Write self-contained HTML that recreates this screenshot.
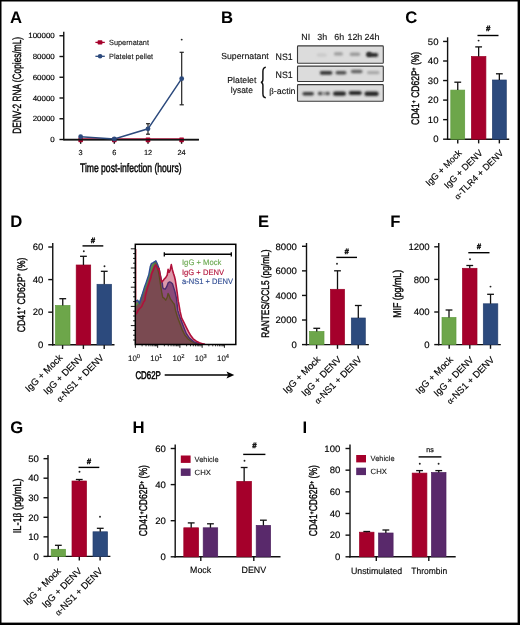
<!DOCTYPE html>
<html><head><meta charset="utf-8"><style>
html,body{margin:0;padding:0;background:#fff;}
svg{display:block;font-family:"Liberation Sans", sans-serif;will-change:transform;text-rendering:geometricPrecision;}
</style></head><body>
<svg width="520" height="625" viewBox="0 0 520 625" font-family='"Liberation Sans", sans-serif'>
<rect x="0" y="0" width="520" height="625" fill="#fff"/>
<text x="9.90" y="22.50" font-size="16.7" text-anchor="start" font-weight="bold" fill="#000"  style="">A</text>
<line x1="63.75" y1="31.75" x2="63.75" y2="140.20" stroke="#111" stroke-width="1.4" />
<line x1="59.45" y1="139.50" x2="63.75" y2="139.50" stroke="#111" stroke-width="1.4" />
<text x="54.80" y="142.12" font-size="7.5" text-anchor="end" font-weight="normal" fill="#000" textLength="4.42" lengthAdjust="spacingAndGlyphs"  stroke="#000" stroke-width="0.15" style="">0</text>
<line x1="59.45" y1="118.75" x2="63.75" y2="118.75" stroke="#111" stroke-width="1.4" />
<text x="54.80" y="121.38" font-size="7.5" text-anchor="end" font-weight="normal" fill="#000" textLength="22.11" lengthAdjust="spacingAndGlyphs"  stroke="#000" stroke-width="0.15" style="">20000</text>
<line x1="59.45" y1="98.00" x2="63.75" y2="98.00" stroke="#111" stroke-width="1.4" />
<text x="54.80" y="100.62" font-size="7.5" text-anchor="end" font-weight="normal" fill="#000" textLength="22.11" lengthAdjust="spacingAndGlyphs"  stroke="#000" stroke-width="0.15" style="">40000</text>
<line x1="59.45" y1="77.25" x2="63.75" y2="77.25" stroke="#111" stroke-width="1.4" />
<text x="54.80" y="79.88" font-size="7.5" text-anchor="end" font-weight="normal" fill="#000" textLength="22.11" lengthAdjust="spacingAndGlyphs"  stroke="#000" stroke-width="0.15" style="">60000</text>
<line x1="59.45" y1="56.50" x2="63.75" y2="56.50" stroke="#111" stroke-width="1.4" />
<text x="54.80" y="59.12" font-size="7.5" text-anchor="end" font-weight="normal" fill="#000" textLength="22.11" lengthAdjust="spacingAndGlyphs"  stroke="#000" stroke-width="0.15" style="">80000</text>
<line x1="59.45" y1="35.75" x2="63.75" y2="35.75" stroke="#111" stroke-width="1.4" />
<text x="54.80" y="38.38" font-size="7.5" text-anchor="end" font-weight="normal" fill="#000" textLength="26.53" lengthAdjust="spacingAndGlyphs"  stroke="#000" stroke-width="0.15" style="">100000</text>
<line x1="63.05" y1="139.50" x2="198.90" y2="139.50" stroke="#111" stroke-width="1.4" />
<line x1="80.65" y1="139.50" x2="80.65" y2="143.80" stroke="#111" stroke-width="1.4" />
<line x1="114.30" y1="139.50" x2="114.30" y2="143.80" stroke="#111" stroke-width="1.4" />
<line x1="148.00" y1="139.50" x2="148.00" y2="143.80" stroke="#111" stroke-width="1.4" />
<line x1="181.60" y1="139.50" x2="181.60" y2="143.80" stroke="#111" stroke-width="1.4" />
<text x="80.65" y="155.40" font-size="7.4" text-anchor="middle" font-weight="normal" fill="#000"  stroke="#000" stroke-width="0.13" style="">3</text>
<text x="114.30" y="155.40" font-size="7.4" text-anchor="middle" font-weight="normal" fill="#000"  stroke="#000" stroke-width="0.13" style="">6</text>
<text x="148.00" y="155.40" font-size="7.4" text-anchor="middle" font-weight="normal" fill="#000"  stroke="#000" stroke-width="0.13" style="">12</text>
<text x="181.60" y="155.40" font-size="7.4" text-anchor="middle" font-weight="normal" fill="#000"  stroke="#000" stroke-width="0.13" style="">24</text>
<text x="80.00" y="171.80" font-size="12.3" text-anchor="start" font-weight="normal" fill="#000" textLength="101.60" lengthAdjust="spacingAndGlyphs"  stroke="#000" stroke-width="0.45" style="">Time post-infection (hours)</text>
<text transform="translate(20.60,85.40) rotate(-90)" x="0" y="0" font-size="11.9" text-anchor="middle" font-weight="normal" fill="#000" textLength="96.80" lengthAdjust="spacingAndGlyphs"  stroke="#000" stroke-width="0.38" style="">DENV-2 RNA (Copies/mL)</text>
<line x1="80.65" y1="138.70" x2="181.60" y2="138.70" stroke="#a5002b" stroke-width="0.8" />
<rect x="78.35" y="137.40" width="4.60" height="4.80" fill="#a5002b" rx="0.6"/>
<rect x="112.00" y="137.40" width="4.60" height="4.80" fill="#a5002b" rx="0.6"/>
<rect x="145.70" y="137.40" width="4.60" height="4.80" fill="#a5002b" rx="0.6"/>
<rect x="179.30" y="137.40" width="4.60" height="4.80" fill="#a5002b" rx="0.6"/>
<line x1="63.75" y1="139.80" x2="198.90" y2="139.80" stroke="#111" stroke-width="1.6" />
<line x1="148.00" y1="123.70" x2="148.00" y2="134.20" stroke="#222" stroke-width="1.2" />
<line x1="146.00" y1="123.70" x2="150.00" y2="123.70" stroke="#222" stroke-width="1.2" />
<line x1="146.00" y1="134.20" x2="150.00" y2="134.20" stroke="#222" stroke-width="1.2" />
<line x1="181.70" y1="52.30" x2="181.70" y2="104.80" stroke="#222" stroke-width="1.2" />
<line x1="179.60" y1="52.30" x2="183.80" y2="52.30" stroke="#222" stroke-width="1.2" />
<line x1="179.60" y1="104.80" x2="183.80" y2="104.80" stroke="#222" stroke-width="1.2" />
<polyline points="80.65,136.7 114.3,139.0 148.0,128.8 181.7,78.7" fill="none" stroke="#2c4a7d" stroke-width="1.5"/>
<circle cx="80.65" cy="136.7" r="2.4" fill="#2c4a7d"/>
<circle cx="114.3" cy="139.0" r="2.4" fill="#2c4a7d"/>
<circle cx="148.0" cy="128.8" r="2.4" fill="#2c4a7d"/>
<circle cx="181.7" cy="78.7" r="2.4" fill="#2c4a7d"/>
<circle cx="181.70" cy="39.60" r="0.95" fill="#222"/>
<line x1="95.40" y1="42.40" x2="104.80" y2="42.40" stroke="#a5002b" stroke-width="1.3" />
<rect x="97.60" y="40.20" width="4.80" height="4.40" fill="#a5002b" rx="0.8"/>
<text x="109.00" y="45.10" font-size="7.6" text-anchor="start" font-weight="normal" fill="#1a1a1a" textLength="40.00" lengthAdjust="spacingAndGlyphs"  stroke="#1a1a1a" stroke-width="0.13" style="">Supernatant</text>
<line x1="95.40" y1="56.30" x2="104.80" y2="56.30" stroke="#2c4a7d" stroke-width="1.3" />
<circle cx="100.1" cy="56.3" r="2.3" fill="#2c4a7d"/>
<text x="109.00" y="59.00" font-size="7.6" text-anchor="start" font-weight="normal" fill="#1a1a1a" textLength="44.00" lengthAdjust="spacingAndGlyphs"  stroke="#1a1a1a" stroke-width="0.13" style="">Platelet pellet</text>
<text x="221.10" y="22.60" font-size="16.7" text-anchor="start" font-weight="bold" fill="#000"  style="">B</text>
<text x="305.75" y="39.60" font-size="8.9" text-anchor="middle" font-weight="normal" fill="#111"  stroke="#111" stroke-width="0.13" style="">NI</text>
<text x="322.15" y="39.60" font-size="8.9" text-anchor="middle" font-weight="normal" fill="#111"  stroke="#111" stroke-width="0.13" style="">3h</text>
<text x="339.15" y="39.60" font-size="8.9" text-anchor="middle" font-weight="normal" fill="#111"  stroke="#111" stroke-width="0.13" style="">6h</text>
<text x="354.90" y="39.60" font-size="8.9" text-anchor="middle" font-weight="normal" fill="#111"  stroke="#111" stroke-width="0.13" style="">12h</text>
<text x="372.00" y="39.60" font-size="8.9" text-anchor="middle" font-weight="normal" fill="#111"  stroke="#111" stroke-width="0.13" style="">24h</text>
<rect x="297.50" y="45.90" width="85.80" height="17.30" fill="#dcdcdc" stroke="#3a3a3a" stroke-width="1.1" rx="0.8"/>
<rect x="297.50" y="66.10" width="85.80" height="15.40" fill="#dcdcdc" stroke="#3a3a3a" stroke-width="1.1" rx="0.8"/>
<rect x="297.50" y="84.60" width="85.80" height="16.60" fill="#dcdcdc" stroke="#3a3a3a" stroke-width="1.1" rx="0.8"/>
<text x="221.20" y="58.60" font-size="8.7" text-anchor="start" font-weight="normal" fill="#111" textLength="47.50" lengthAdjust="spacingAndGlyphs"  stroke="#111" stroke-width="0.13" style="">Supernatant</text>
<text x="275.50" y="60.10" font-size="9.3" text-anchor="start" font-weight="normal" fill="#111" textLength="17.20" lengthAdjust="spacingAndGlyphs"  stroke="#111" stroke-width="0.13" style="">NS1</text>
<text x="275.50" y="77.70" font-size="9.3" text-anchor="start" font-weight="normal" fill="#111" textLength="17.20" lengthAdjust="spacingAndGlyphs"  stroke="#111" stroke-width="0.13" style="">NS1</text>
<text x="269.20" y="94.30" font-size="8.7" text-anchor="start" font-weight="normal" fill="#111" textLength="26.40" lengthAdjust="spacingAndGlyphs"  stroke="#111" stroke-width="0.13" style=""><tspan font-family="Liberation Serif">β</tspan>-actin</text>
<text x="227.30" y="82.70" font-size="8.7" text-anchor="start" font-weight="normal" fill="#111" textLength="29.10" lengthAdjust="spacingAndGlyphs"  stroke="#111" stroke-width="0.13" style="">Platelet</text>
<text x="230.80" y="93.00" font-size="8.7" text-anchor="start" font-weight="normal" fill="#111" textLength="22.10" lengthAdjust="spacingAndGlyphs"  stroke="#111" stroke-width="0.13" style="">lysate</text>
<path d="M265.8,67.2 C263.2,67.4 262.9,69 262.9,71.5 L262.9,79.5 C262.9,81.2 262.3,82.2 260.9,82.4 C262.3,82.6 262.9,83.6 262.9,85.3 L262.9,93.5 C262.9,96 263.2,97.6 265.8,97.8" fill="none" stroke="#111" stroke-width="1.45"/>
<defs><filter id="blur" x="-30%" y="-100%" width="160%" height="300%"><feGaussianBlur stdDeviation="0.9"/></filter></defs>
<rect x="316.70" y="53.40" width="10.00" height="3.20" rx="1.60" fill="#c8c8c8" opacity="1.0" filter="url(#blur)"/>
<rect x="333.90" y="52.20" width="9.00" height="3.40" rx="1.70" fill="#9c9c9c" opacity="1.0" filter="url(#blur)"/>
<rect x="349.70" y="52.40" width="10.50" height="3.60" rx="1.80" fill="#9a9a9a" opacity="1.0" filter="url(#blur)"/>
<rect x="366.30" y="53.10" width="11.90" height="3.80" rx="1.90" fill="#2e2e2e" opacity="1.0" filter="url(#blur)"/>
<rect x="366.50" y="52.10" width="5.20" height="3.80" rx="1.90" fill="#2e2e2e" opacity="1.0" filter="url(#blur)"/>
<rect x="319.80" y="70.90" width="12.60" height="3.80" rx="1.90" fill="#363636" opacity="1.0" filter="url(#blur)"/>
<rect x="335.50" y="71.00" width="11.00" height="3.60" rx="1.80" fill="#505050" opacity="1.0" filter="url(#blur)"/>
<rect x="350.90" y="69.80" width="11.60" height="3.40" rx="1.70" fill="#636363" opacity="1.0" filter="url(#blur)"/>
<rect x="366.90" y="71.00" width="12.60" height="3.20" rx="1.60" fill="#a8a8a8" opacity="1.0" filter="url(#blur)"/>
<rect x="302.40" y="91.95" width="11.50" height="3.60" rx="1.80" fill="#383838" opacity="1.0" filter="url(#blur)"/>
<rect x="317.80" y="91.80" width="4.90" height="3.40" rx="1.70" fill="#4c4c4c" opacity="1.0" filter="url(#blur)"/>
<rect x="322.30" y="92.00" width="3.40" height="3.00" rx="1.50" fill="#8a8a8a" opacity="1.0" filter="url(#blur)"/>
<rect x="325.30" y="91.80" width="4.60" height="3.40" rx="1.70" fill="#505050" opacity="1.0" filter="url(#blur)"/>
<rect x="333.00" y="91.40" width="13.00" height="4.40" rx="2.20" fill="#262626" opacity="1.0" filter="url(#blur)"/>
<rect x="348.70" y="90.90" width="13.10" height="4.00" rx="2.00" fill="#2c2c2c" opacity="1.0" filter="url(#blur)"/>
<rect x="364.40" y="91.55" width="14.30" height="4.40" rx="2.20" fill="#282828" opacity="1.0" filter="url(#blur)"/>
<text x="405.20" y="22.60" font-size="16.7" text-anchor="start" font-weight="bold" fill="#000"  style="">C</text>
<line x1="447.60" y1="37.30" x2="447.60" y2="139.90" stroke="#111" stroke-width="1.4" />
<line x1="443.10" y1="139.20" x2="447.60" y2="139.20" stroke="#111" stroke-width="1.4" />
<text x="438.50" y="142.42" font-size="9.2" text-anchor="end" font-weight="normal" fill="#000" textLength="5.32" lengthAdjust="spacingAndGlyphs"  stroke="#000" stroke-width="0.15" style="">0</text>
<line x1="443.10" y1="119.65" x2="447.60" y2="119.65" stroke="#111" stroke-width="1.4" />
<text x="438.50" y="122.87" font-size="9.2" text-anchor="end" font-weight="normal" fill="#000" textLength="10.64" lengthAdjust="spacingAndGlyphs"  stroke="#000" stroke-width="0.15" style="">10</text>
<line x1="443.10" y1="100.10" x2="447.60" y2="100.10" stroke="#111" stroke-width="1.4" />
<text x="438.50" y="103.32" font-size="9.2" text-anchor="end" font-weight="normal" fill="#000" textLength="10.64" lengthAdjust="spacingAndGlyphs"  stroke="#000" stroke-width="0.15" style="">20</text>
<line x1="443.10" y1="80.55" x2="447.60" y2="80.55" stroke="#111" stroke-width="1.4" />
<text x="438.50" y="83.77" font-size="9.2" text-anchor="end" font-weight="normal" fill="#000" textLength="10.64" lengthAdjust="spacingAndGlyphs"  stroke="#000" stroke-width="0.15" style="">30</text>
<line x1="443.10" y1="61.00" x2="447.60" y2="61.00" stroke="#111" stroke-width="1.4" />
<text x="438.50" y="64.22" font-size="9.2" text-anchor="end" font-weight="normal" fill="#000" textLength="10.64" lengthAdjust="spacingAndGlyphs"  stroke="#000" stroke-width="0.15" style="">40</text>
<line x1="443.10" y1="41.45" x2="447.60" y2="41.45" stroke="#111" stroke-width="1.4" />
<text x="438.50" y="44.67" font-size="9.2" text-anchor="end" font-weight="normal" fill="#000" textLength="10.64" lengthAdjust="spacingAndGlyphs"  stroke="#000" stroke-width="0.15" style="">50</text>
<line x1="446.90" y1="139.20" x2="509.20" y2="139.20" stroke="#111" stroke-width="1.4" />
<line x1="457.75" y1="139.20" x2="457.75" y2="143.40" stroke="#111" stroke-width="1.4" />
<line x1="478.65" y1="139.20" x2="478.65" y2="143.40" stroke="#111" stroke-width="1.4" />
<line x1="499.35" y1="139.20" x2="499.35" y2="143.40" stroke="#111" stroke-width="1.4" />
<rect x="450.80" y="90.10" width="13.90" height="49.10" fill="#6da64a" stroke="#5f9c3c" stroke-width="0.7" />
<line x1="457.75" y1="90.10" x2="457.75" y2="82.20" stroke="#111" stroke-width="1.3" />
<line x1="454.35" y1="82.20" x2="461.15" y2="82.20" stroke="#111" stroke-width="1.3" />
<rect x="471.40" y="56.50" width="14.50" height="82.70" fill="#a5002b" stroke="#9a0026" stroke-width="0.7" />
<line x1="478.65" y1="56.50" x2="478.65" y2="46.90" stroke="#111" stroke-width="1.3" />
<line x1="475.25" y1="46.90" x2="482.05" y2="46.90" stroke="#111" stroke-width="1.3" />
<rect x="492.40" y="80.00" width="13.90" height="59.20" fill="#2c4a7d" stroke="#253f6e" stroke-width="0.7" />
<line x1="499.35" y1="80.00" x2="499.35" y2="73.80" stroke="#111" stroke-width="1.3" />
<line x1="495.95" y1="73.80" x2="502.75" y2="73.80" stroke="#111" stroke-width="1.3" />
<line x1="477.50" y1="35.50" x2="498.50" y2="35.50" stroke="#000" stroke-width="1.4" />
<text x="488.00" y="31.30" font-size="7.6" text-anchor="middle" font-weight="bold" fill="#111"  stroke="#111" stroke-width="0.45" style="font-style:italic">#</text>
<circle cx="478.60" cy="40.60" r="0.95" fill="#222"/>
<text transform="translate(419.40,88.40) rotate(-90)" x="0" y="0" font-size="10.9" text-anchor="middle" font-weight="normal" fill="#000" textLength="73.20" lengthAdjust="spacingAndGlyphs"  stroke="#000" stroke-width="0.38" style="">CD41<tspan dy="-3.6" font-size="6.5">+</tspan><tspan dy="3.6"> CD62P</tspan><tspan dy="-3.6" font-size="6.5">+</tspan><tspan dy="3.6"> (%)</tspan></text>
<text transform="translate(462.30,153.50) rotate(-45)" x="0" y="0" font-size="9.1" text-anchor="end" font-weight="normal" fill="#000"  stroke="#000" stroke-width="0.15" style="">IgG + Mock</text>
<text transform="translate(483.20,153.50) rotate(-45)" x="0" y="0" font-size="9.1" text-anchor="end" font-weight="normal" fill="#000"  stroke="#000" stroke-width="0.15" style="">IgG + DENV</text>
<text transform="translate(504.10,153.50) rotate(-45)" x="0" y="0" font-size="9.1" text-anchor="end" font-weight="normal" fill="#000"  stroke="#000" stroke-width="0.15" style=""><tspan font-family="Liberation Serif">α</tspan>-TLR4 + DENV</text>
<text x="10.20" y="226.90" font-size="16.7" text-anchor="start" font-weight="bold" fill="#000"  style="">D</text>
<line x1="52.75" y1="243.00" x2="52.75" y2="345.45" stroke="#111" stroke-width="1.4" />
<line x1="48.25" y1="344.75" x2="52.75" y2="344.75" stroke="#111" stroke-width="1.4" />
<text x="43.40" y="347.97" font-size="9.2" text-anchor="end" font-weight="normal" fill="#000" textLength="5.32" lengthAdjust="spacingAndGlyphs"  stroke="#000" stroke-width="0.15" style="">0</text>
<line x1="48.25" y1="312.17" x2="52.75" y2="312.17" stroke="#111" stroke-width="1.4" />
<text x="43.40" y="315.39" font-size="9.2" text-anchor="end" font-weight="normal" fill="#000" textLength="10.64" lengthAdjust="spacingAndGlyphs"  stroke="#000" stroke-width="0.15" style="">20</text>
<line x1="48.25" y1="279.59" x2="52.75" y2="279.59" stroke="#111" stroke-width="1.4" />
<text x="43.40" y="282.81" font-size="9.2" text-anchor="end" font-weight="normal" fill="#000" textLength="10.64" lengthAdjust="spacingAndGlyphs"  stroke="#000" stroke-width="0.15" style="">40</text>
<line x1="48.25" y1="247.01" x2="52.75" y2="247.01" stroke="#111" stroke-width="1.4" />
<text x="43.40" y="250.23" font-size="9.2" text-anchor="end" font-weight="normal" fill="#000" textLength="10.64" lengthAdjust="spacingAndGlyphs"  stroke="#000" stroke-width="0.15" style="">60</text>
<line x1="52.05" y1="344.75" x2="114.50" y2="344.75" stroke="#111" stroke-width="1.4" />
<line x1="62.60" y1="344.75" x2="62.60" y2="348.95" stroke="#111" stroke-width="1.4" />
<line x1="83.40" y1="344.75" x2="83.40" y2="348.95" stroke="#111" stroke-width="1.4" />
<line x1="104.20" y1="344.75" x2="104.20" y2="348.95" stroke="#111" stroke-width="1.4" />
<rect x="55.50" y="305.50" width="14.50" height="39.25" fill="#6da64a" stroke="#5f9c3c" stroke-width="0.7" />
<line x1="62.75" y1="305.50" x2="62.75" y2="298.70" stroke="#111" stroke-width="1.3" />
<line x1="59.35" y1="298.70" x2="66.15" y2="298.70" stroke="#111" stroke-width="1.3" />
<rect x="76.20" y="265.00" width="14.50" height="79.75" fill="#a5002b" stroke="#9a0026" stroke-width="0.7" />
<line x1="83.45" y1="265.00" x2="83.45" y2="256.30" stroke="#111" stroke-width="1.3" />
<line x1="80.05" y1="256.30" x2="86.85" y2="256.30" stroke="#111" stroke-width="1.3" />
<rect x="97.00" y="284.30" width="14.50" height="60.45" fill="#2c4a7d" stroke="#253f6e" stroke-width="0.7" />
<line x1="104.25" y1="284.30" x2="104.25" y2="271.30" stroke="#111" stroke-width="1.3" />
<line x1="100.85" y1="271.30" x2="107.65" y2="271.30" stroke="#111" stroke-width="1.3" />
<line x1="82.50" y1="245.90" x2="103.30" y2="245.90" stroke="#000" stroke-width="1.4" />
<text x="92.90" y="242.70" font-size="7.6" text-anchor="middle" font-weight="bold" fill="#111"  stroke="#111" stroke-width="0.45" style="font-style:italic">#</text>
<circle cx="83.80" cy="251.30" r="0.95" fill="#222"/>
<circle cx="104.50" cy="266.20" r="0.95" fill="#222"/>
<text transform="translate(25.00,294.90) rotate(-90)" x="0" y="0" font-size="10.9" text-anchor="middle" font-weight="normal" fill="#000" textLength="74.80" lengthAdjust="spacingAndGlyphs"  stroke="#000" stroke-width="0.38" style="">CD41<tspan dy="-3.6" font-size="6.5">+</tspan><tspan dy="3.6"> CD62P</tspan><tspan dy="-3.6" font-size="6.5">+</tspan><tspan dy="3.6"> (%)</tspan></text>
<text transform="translate(63.10,358.30) rotate(-45)" x="0" y="0" font-size="9.4" text-anchor="end" font-weight="normal" fill="#000"  stroke="#000" stroke-width="0.15" style="">IgG + Mock</text>
<text transform="translate(83.90,358.30) rotate(-45)" x="0" y="0" font-size="9.4" text-anchor="end" font-weight="normal" fill="#000"  stroke="#000" stroke-width="0.15" style="">IgG + DENV</text>
<text transform="translate(104.50,358.30) rotate(-45)" x="0" y="0" font-size="9.4" text-anchor="end" font-weight="normal" fill="#000"  stroke="#000" stroke-width="0.15" style=""><tspan font-family="Liberation Serif">α</tspan>-NS1 + DENV</text>
<text x="257.90" y="227.00" font-size="16.7" text-anchor="start" font-weight="bold" fill="#000"  style="">E</text>
<line x1="306.50" y1="243.00" x2="306.50" y2="345.30" stroke="#111" stroke-width="1.4" />
<line x1="302.00" y1="344.60" x2="306.50" y2="344.60" stroke="#111" stroke-width="1.4" />
<text x="296.80" y="347.82" font-size="9.2" text-anchor="end" font-weight="normal" fill="#000" textLength="5.32" lengthAdjust="spacingAndGlyphs"  stroke="#000" stroke-width="0.15" style="">0</text>
<line x1="302.00" y1="320.02" x2="306.50" y2="320.02" stroke="#111" stroke-width="1.4" />
<text x="296.80" y="323.24" font-size="9.2" text-anchor="end" font-weight="normal" fill="#000" textLength="21.29" lengthAdjust="spacingAndGlyphs"  stroke="#000" stroke-width="0.15" style="">2000</text>
<line x1="302.00" y1="295.44" x2="306.50" y2="295.44" stroke="#111" stroke-width="1.4" />
<text x="296.80" y="298.66" font-size="9.2" text-anchor="end" font-weight="normal" fill="#000" textLength="21.29" lengthAdjust="spacingAndGlyphs"  stroke="#000" stroke-width="0.15" style="">4000</text>
<line x1="302.00" y1="270.86" x2="306.50" y2="270.86" stroke="#111" stroke-width="1.4" />
<text x="296.80" y="274.08" font-size="9.2" text-anchor="end" font-weight="normal" fill="#000" textLength="21.29" lengthAdjust="spacingAndGlyphs"  stroke="#000" stroke-width="0.15" style="">6000</text>
<line x1="302.00" y1="246.28" x2="306.50" y2="246.28" stroke="#111" stroke-width="1.4" />
<text x="296.80" y="249.50" font-size="9.2" text-anchor="end" font-weight="normal" fill="#000" textLength="21.29" lengthAdjust="spacingAndGlyphs"  stroke="#000" stroke-width="0.15" style="">8000</text>
<line x1="305.80" y1="344.60" x2="368.80" y2="344.60" stroke="#111" stroke-width="1.4" />
<line x1="316.60" y1="344.60" x2="316.60" y2="348.80" stroke="#111" stroke-width="1.4" />
<line x1="337.50" y1="344.60" x2="337.50" y2="348.80" stroke="#111" stroke-width="1.4" />
<line x1="358.25" y1="344.60" x2="358.25" y2="348.80" stroke="#111" stroke-width="1.4" />
<rect x="309.50" y="331.50" width="14.50" height="13.10" fill="#6da64a" stroke="#5f9c3c" stroke-width="0.7" />
<line x1="316.75" y1="331.50" x2="316.75" y2="328.30" stroke="#111" stroke-width="1.3" />
<line x1="313.35" y1="328.30" x2="320.15" y2="328.30" stroke="#111" stroke-width="1.3" />
<rect x="330.50" y="289.30" width="14.00" height="55.30" fill="#a5002b" stroke="#9a0026" stroke-width="0.7" />
<line x1="337.50" y1="289.30" x2="337.50" y2="270.80" stroke="#111" stroke-width="1.3" />
<line x1="334.10" y1="270.80" x2="340.90" y2="270.80" stroke="#111" stroke-width="1.3" />
<rect x="351.30" y="318.00" width="14.00" height="26.60" fill="#2c4a7d" stroke="#253f6e" stroke-width="0.7" />
<line x1="358.30" y1="318.00" x2="358.30" y2="305.50" stroke="#111" stroke-width="1.3" />
<line x1="354.90" y1="305.50" x2="361.70" y2="305.50" stroke="#111" stroke-width="1.3" />
<line x1="336.30" y1="257.40" x2="357.00" y2="257.40" stroke="#000" stroke-width="1.4" />
<text x="346.65" y="253.70" font-size="7.6" text-anchor="middle" font-weight="bold" fill="#111"  stroke="#111" stroke-width="0.45" style="font-style:italic">#</text>
<circle cx="337.00" cy="263.80" r="0.95" fill="#222"/>
<text transform="translate(268.60,293.65) rotate(-90)" x="0" y="0" font-size="10.9" text-anchor="middle" font-weight="normal" fill="#000" textLength="88.30" lengthAdjust="spacingAndGlyphs"  stroke="#000" stroke-width="0.38" style="">RANTES/CCL5 (pg/mL)</text>
<text transform="translate(320.90,360.00) rotate(-45)" x="0" y="0" font-size="9.4" text-anchor="end" font-weight="normal" fill="#000"  stroke="#000" stroke-width="0.15" style="">IgG + Mock</text>
<text transform="translate(341.80,360.00) rotate(-45)" x="0" y="0" font-size="9.4" text-anchor="end" font-weight="normal" fill="#000"  stroke="#000" stroke-width="0.15" style="">IgG + DENV</text>
<text transform="translate(362.50,360.00) rotate(-45)" x="0" y="0" font-size="9.4" text-anchor="end" font-weight="normal" fill="#000"  stroke="#000" stroke-width="0.15" style=""><tspan font-family="Liberation Serif">α</tspan>-NS1 + DENV</text>
<text x="390.30" y="227.00" font-size="16.7" text-anchor="start" font-weight="bold" fill="#000"  style="">F</text>
<line x1="438.75" y1="243.00" x2="438.75" y2="345.30" stroke="#111" stroke-width="1.4" />
<line x1="434.25" y1="344.60" x2="438.75" y2="344.60" stroke="#111" stroke-width="1.4" />
<text x="429.70" y="347.82" font-size="9.2" text-anchor="end" font-weight="normal" fill="#000" textLength="5.32" lengthAdjust="spacingAndGlyphs"  stroke="#000" stroke-width="0.15" style="">0</text>
<line x1="434.25" y1="312.00" x2="438.75" y2="312.00" stroke="#111" stroke-width="1.4" />
<text x="429.70" y="315.22" font-size="9.2" text-anchor="end" font-weight="normal" fill="#000" textLength="15.96" lengthAdjust="spacingAndGlyphs"  stroke="#000" stroke-width="0.15" style="">400</text>
<line x1="434.25" y1="279.40" x2="438.75" y2="279.40" stroke="#111" stroke-width="1.4" />
<text x="429.70" y="282.62" font-size="9.2" text-anchor="end" font-weight="normal" fill="#000" textLength="15.96" lengthAdjust="spacingAndGlyphs"  stroke="#000" stroke-width="0.15" style="">800</text>
<line x1="434.25" y1="246.80" x2="438.75" y2="246.80" stroke="#111" stroke-width="1.4" />
<text x="429.70" y="250.02" font-size="9.2" text-anchor="end" font-weight="normal" fill="#000" textLength="21.29" lengthAdjust="spacingAndGlyphs"  stroke="#000" stroke-width="0.15" style="">1200</text>
<line x1="438.05" y1="344.60" x2="500.80" y2="344.60" stroke="#111" stroke-width="1.4" />
<line x1="449.20" y1="344.60" x2="449.20" y2="348.80" stroke="#111" stroke-width="1.4" />
<line x1="469.80" y1="344.60" x2="469.80" y2="348.80" stroke="#111" stroke-width="1.4" />
<line x1="490.50" y1="344.60" x2="490.50" y2="348.80" stroke="#111" stroke-width="1.4" />
<rect x="442.00" y="317.50" width="14.00" height="27.10" fill="#6da64a" stroke="#5f9c3c" stroke-width="0.7" />
<line x1="449.00" y1="317.50" x2="449.00" y2="310.00" stroke="#111" stroke-width="1.3" />
<line x1="445.60" y1="310.00" x2="452.40" y2="310.00" stroke="#111" stroke-width="1.3" />
<rect x="462.50" y="268.30" width="14.50" height="76.30" fill="#a5002b" stroke="#9a0026" stroke-width="0.7" />
<line x1="469.75" y1="268.30" x2="469.75" y2="265.50" stroke="#111" stroke-width="1.3" />
<line x1="466.35" y1="265.50" x2="473.15" y2="265.50" stroke="#111" stroke-width="1.3" />
<rect x="483.30" y="303.80" width="14.50" height="40.80" fill="#2c4a7d" stroke="#253f6e" stroke-width="0.7" />
<line x1="490.55" y1="303.80" x2="490.55" y2="294.30" stroke="#111" stroke-width="1.3" />
<line x1="487.15" y1="294.30" x2="493.95" y2="294.30" stroke="#111" stroke-width="1.3" />
<line x1="468.30" y1="252.70" x2="489.50" y2="252.70" stroke="#000" stroke-width="1.4" />
<text x="478.90" y="248.90" font-size="7.6" text-anchor="middle" font-weight="bold" fill="#111"  stroke="#111" stroke-width="0.45" style="font-style:italic">#</text>
<circle cx="470.00" cy="259.30" r="0.95" fill="#222"/>
<circle cx="490.50" cy="286.60" r="0.95" fill="#222"/>
<text transform="translate(400.80,293.85) rotate(-90)" x="0" y="0" font-size="11.3" text-anchor="middle" font-weight="normal" fill="#000" textLength="47.90" lengthAdjust="spacingAndGlyphs"  stroke="#000" stroke-width="0.38" style="">MIF (pg/mL)</text>
<text transform="translate(453.50,360.30) rotate(-45)" x="0" y="0" font-size="9.4" text-anchor="end" font-weight="normal" fill="#000"  stroke="#000" stroke-width="0.15" style="">IgG + Mock</text>
<text transform="translate(474.10,360.30) rotate(-45)" x="0" y="0" font-size="9.4" text-anchor="end" font-weight="normal" fill="#000"  stroke="#000" stroke-width="0.15" style="">IgG + DENV</text>
<text transform="translate(494.80,360.30) rotate(-45)" x="0" y="0" font-size="9.4" text-anchor="end" font-weight="normal" fill="#000"  stroke="#000" stroke-width="0.15" style=""><tspan font-family="Liberation Serif">α</tspan>-NS1 + DENV</text>
<text x="10.20" y="432.60" font-size="16.7" text-anchor="start" font-weight="bold" fill="#000"  style="">G</text>
<line x1="48.00" y1="455.00" x2="48.00" y2="557.10" stroke="#111" stroke-width="1.4" />
<line x1="43.50" y1="556.40" x2="48.00" y2="556.40" stroke="#111" stroke-width="1.4" />
<text x="38.90" y="559.62" font-size="9.2" text-anchor="end" font-weight="normal" fill="#000" textLength="5.32" lengthAdjust="spacingAndGlyphs"  stroke="#000" stroke-width="0.15" style="">0</text>
<line x1="43.50" y1="536.85" x2="48.00" y2="536.85" stroke="#111" stroke-width="1.4" />
<text x="38.90" y="540.07" font-size="9.2" text-anchor="end" font-weight="normal" fill="#000" textLength="10.64" lengthAdjust="spacingAndGlyphs"  stroke="#000" stroke-width="0.15" style="">10</text>
<line x1="43.50" y1="517.30" x2="48.00" y2="517.30" stroke="#111" stroke-width="1.4" />
<text x="38.90" y="520.52" font-size="9.2" text-anchor="end" font-weight="normal" fill="#000" textLength="10.64" lengthAdjust="spacingAndGlyphs"  stroke="#000" stroke-width="0.15" style="">20</text>
<line x1="43.50" y1="497.75" x2="48.00" y2="497.75" stroke="#111" stroke-width="1.4" />
<text x="38.90" y="500.97" font-size="9.2" text-anchor="end" font-weight="normal" fill="#000" textLength="10.64" lengthAdjust="spacingAndGlyphs"  stroke="#000" stroke-width="0.15" style="">30</text>
<line x1="43.50" y1="478.20" x2="48.00" y2="478.20" stroke="#111" stroke-width="1.4" />
<text x="38.90" y="481.42" font-size="9.2" text-anchor="end" font-weight="normal" fill="#000" textLength="10.64" lengthAdjust="spacingAndGlyphs"  stroke="#000" stroke-width="0.15" style="">40</text>
<line x1="43.50" y1="458.65" x2="48.00" y2="458.65" stroke="#111" stroke-width="1.4" />
<text x="38.90" y="461.87" font-size="9.2" text-anchor="end" font-weight="normal" fill="#000" textLength="10.64" lengthAdjust="spacingAndGlyphs"  stroke="#000" stroke-width="0.15" style="">50</text>
<line x1="47.30" y1="556.40" x2="110.40" y2="556.40" stroke="#111" stroke-width="1.4" />
<line x1="58.30" y1="556.40" x2="58.30" y2="560.60" stroke="#111" stroke-width="1.4" />
<line x1="79.30" y1="556.40" x2="79.30" y2="560.60" stroke="#111" stroke-width="1.4" />
<line x1="100.10" y1="556.40" x2="100.10" y2="560.60" stroke="#111" stroke-width="1.4" />
<rect x="51.20" y="549.30" width="14.30" height="7.10" fill="#6da64a" stroke="#5f9c3c" stroke-width="0.7" />
<line x1="58.35" y1="549.30" x2="58.35" y2="545.30" stroke="#111" stroke-width="1.3" />
<line x1="54.95" y1="545.30" x2="61.75" y2="545.30" stroke="#111" stroke-width="1.3" />
<rect x="72.00" y="481.00" width="14.50" height="75.40" fill="#a5002b" stroke="#9a0026" stroke-width="0.7" />
<line x1="79.25" y1="481.00" x2="79.25" y2="479.50" stroke="#111" stroke-width="1.3" />
<line x1="75.85" y1="479.50" x2="82.65" y2="479.50" stroke="#111" stroke-width="1.3" />
<rect x="93.00" y="531.80" width="14.50" height="24.60" fill="#2c4a7d" stroke="#253f6e" stroke-width="0.7" />
<line x1="100.25" y1="531.80" x2="100.25" y2="528.30" stroke="#111" stroke-width="1.3" />
<line x1="96.85" y1="528.30" x2="103.65" y2="528.30" stroke="#111" stroke-width="1.3" />
<line x1="78.50" y1="467.40" x2="99.30" y2="467.40" stroke="#000" stroke-width="1.4" />
<text x="88.90" y="463.90" font-size="7.6" text-anchor="middle" font-weight="bold" fill="#111"  stroke="#111" stroke-width="0.45" style="font-style:italic">#</text>
<circle cx="79.50" cy="471.80" r="0.95" fill="#222"/>
<circle cx="100.00" cy="516.80" r="0.95" fill="#222"/>
<text transform="translate(20.70,505.85) rotate(-90)" x="0" y="0" font-size="11.3" text-anchor="middle" font-weight="normal" fill="#000" textLength="54.90" lengthAdjust="spacingAndGlyphs"  stroke="#000" stroke-width="0.38" style="">IL-1<tspan font-family="Liberation Serif">β</tspan> (pg/mL)</text>
<text transform="translate(61.30,571.60) rotate(-45)" x="0" y="0" font-size="9.4" text-anchor="end" font-weight="normal" fill="#000"  stroke="#000" stroke-width="0.15" style="">IgG + Mock</text>
<text transform="translate(82.30,571.60) rotate(-45)" x="0" y="0" font-size="9.4" text-anchor="end" font-weight="normal" fill="#000"  stroke="#000" stroke-width="0.15" style="">IgG + DENV</text>
<text transform="translate(103.10,571.60) rotate(-45)" x="0" y="0" font-size="9.4" text-anchor="end" font-weight="normal" fill="#000"  stroke="#000" stroke-width="0.15" style=""><tspan font-family="Liberation Serif">α</tspan>-NS1 + DENV</text>
<text x="132.40" y="432.60" font-size="16.7" text-anchor="start" font-weight="bold" fill="#000"  style="">H</text>
<line x1="175.20" y1="444.50" x2="175.20" y2="557.50" stroke="#111" stroke-width="1.4" />
<line x1="170.70" y1="556.80" x2="175.20" y2="556.80" stroke="#111" stroke-width="1.4" />
<text x="165.80" y="560.02" font-size="9.2" text-anchor="end" font-weight="normal" fill="#000" textLength="5.32" lengthAdjust="spacingAndGlyphs"  stroke="#000" stroke-width="0.15" style="">0</text>
<line x1="170.70" y1="520.70" x2="175.20" y2="520.70" stroke="#111" stroke-width="1.4" />
<text x="165.80" y="523.92" font-size="9.2" text-anchor="end" font-weight="normal" fill="#000" textLength="10.64" lengthAdjust="spacingAndGlyphs"  stroke="#000" stroke-width="0.15" style="">20</text>
<line x1="170.70" y1="484.60" x2="175.20" y2="484.60" stroke="#111" stroke-width="1.4" />
<text x="165.80" y="487.82" font-size="9.2" text-anchor="end" font-weight="normal" fill="#000" textLength="10.64" lengthAdjust="spacingAndGlyphs"  stroke="#000" stroke-width="0.15" style="">40</text>
<line x1="170.70" y1="448.50" x2="175.20" y2="448.50" stroke="#111" stroke-width="1.4" />
<text x="165.80" y="451.72" font-size="9.2" text-anchor="end" font-weight="normal" fill="#000" textLength="10.64" lengthAdjust="spacingAndGlyphs"  stroke="#000" stroke-width="0.15" style="">60</text>
<line x1="174.50" y1="556.80" x2="280.50" y2="556.80" stroke="#111" stroke-width="1.4" />
<line x1="200.80" y1="556.80" x2="200.80" y2="561.00" stroke="#111" stroke-width="1.4" />
<line x1="253.80" y1="556.80" x2="253.80" y2="561.00" stroke="#111" stroke-width="1.4" />
<rect x="183.80" y="527.80" width="14.80" height="29.00" fill="#a5002b" stroke="#9a0026" stroke-width="0.7" />
<line x1="191.20" y1="527.80" x2="191.20" y2="522.90" stroke="#111" stroke-width="1.3" />
<line x1="187.80" y1="522.90" x2="194.60" y2="522.90" stroke="#111" stroke-width="1.3" />
<rect x="203.20" y="527.80" width="14.50" height="29.00" fill="#59296b" stroke="#4e2260" stroke-width="0.7" />
<line x1="210.45" y1="527.80" x2="210.45" y2="523.80" stroke="#111" stroke-width="1.3" />
<line x1="207.05" y1="523.80" x2="213.85" y2="523.80" stroke="#111" stroke-width="1.3" />
<rect x="236.80" y="481.40" width="14.70" height="75.40" fill="#a5002b" stroke="#9a0026" stroke-width="0.7" />
<line x1="244.15" y1="481.40" x2="244.15" y2="467.50" stroke="#111" stroke-width="1.3" />
<line x1="240.75" y1="467.50" x2="247.55" y2="467.50" stroke="#111" stroke-width="1.3" />
<rect x="256.20" y="525.40" width="14.40" height="31.40" fill="#59296b" stroke="#4e2260" stroke-width="0.7" />
<line x1="263.40" y1="525.40" x2="263.40" y2="520.20" stroke="#111" stroke-width="1.3" />
<line x1="260.00" y1="520.20" x2="266.80" y2="520.20" stroke="#111" stroke-width="1.3" />
<line x1="243.20" y1="454.40" x2="265.40" y2="454.40" stroke="#000" stroke-width="1.4" />
<text x="254.30" y="447.90" font-size="7.6" text-anchor="middle" font-weight="bold" fill="#111"  stroke="#111" stroke-width="0.45" style="font-style:italic">#</text>
<circle cx="244.50" cy="460.80" r="0.95" fill="#222"/>
<rect x="180.80" y="455.50" width="9.80" height="7.40" fill="#a5002b" />
<text x="194.60" y="461.90" font-size="7.6" text-anchor="start" font-weight="normal" fill="#1a1a1a" textLength="24.00" lengthAdjust="spacingAndGlyphs"  stroke="#1a1a1a" stroke-width="0.13" style="">Vehicle</text>
<rect x="180.80" y="468.50" width="9.80" height="7.40" fill="#59296b" />
<text x="194.60" y="474.90" font-size="7.6" text-anchor="start" font-weight="normal" fill="#1a1a1a" textLength="16.30" lengthAdjust="spacingAndGlyphs"  stroke="#1a1a1a" stroke-width="0.13" style="">CHX</text>
<text transform="translate(147.10,500.65) rotate(-90)" x="0" y="0" font-size="11.3" text-anchor="middle" font-weight="normal" fill="#000" textLength="71.10" lengthAdjust="spacingAndGlyphs"  stroke="#000" stroke-width="0.38" style="">CD41<tspan dy="-3.6" font-size="6.5">+</tspan><tspan dy="3.6">CD62P</tspan><tspan dy="-3.6" font-size="6.5">+</tspan><tspan dy="3.6"> (%)</tspan></text>
<text x="200.60" y="573.30" font-size="9.0" text-anchor="middle" font-weight="normal" fill="#000" textLength="21.00" lengthAdjust="spacingAndGlyphs"  stroke="#000" stroke-width="0.13" style="">Mock</text>
<text x="253.80" y="573.30" font-size="9.0" text-anchor="middle" font-weight="normal" fill="#000" textLength="24.60" lengthAdjust="spacingAndGlyphs"  stroke="#000" stroke-width="0.13" style="">DENV</text>
<text x="302.40" y="432.60" font-size="16.7" text-anchor="start" font-weight="bold" fill="#000"  style="">I</text>
<line x1="350.00" y1="444.50" x2="350.00" y2="557.50" stroke="#111" stroke-width="1.4" />
<line x1="345.50" y1="556.80" x2="350.00" y2="556.80" stroke="#111" stroke-width="1.4" />
<text x="340.30" y="560.02" font-size="9.2" text-anchor="end" font-weight="normal" fill="#000" textLength="5.32" lengthAdjust="spacingAndGlyphs"  stroke="#000" stroke-width="0.15" style="">0</text>
<line x1="345.50" y1="535.14" x2="350.00" y2="535.14" stroke="#111" stroke-width="1.4" />
<text x="340.30" y="538.36" font-size="9.2" text-anchor="end" font-weight="normal" fill="#000" textLength="10.64" lengthAdjust="spacingAndGlyphs"  stroke="#000" stroke-width="0.15" style="">20</text>
<line x1="345.50" y1="513.48" x2="350.00" y2="513.48" stroke="#111" stroke-width="1.4" />
<text x="340.30" y="516.70" font-size="9.2" text-anchor="end" font-weight="normal" fill="#000" textLength="10.64" lengthAdjust="spacingAndGlyphs"  stroke="#000" stroke-width="0.15" style="">40</text>
<line x1="345.50" y1="491.82" x2="350.00" y2="491.82" stroke="#111" stroke-width="1.4" />
<text x="340.30" y="495.04" font-size="9.2" text-anchor="end" font-weight="normal" fill="#000" textLength="10.64" lengthAdjust="spacingAndGlyphs"  stroke="#000" stroke-width="0.15" style="">60</text>
<line x1="345.50" y1="470.16" x2="350.00" y2="470.16" stroke="#111" stroke-width="1.4" />
<text x="340.30" y="473.38" font-size="9.2" text-anchor="end" font-weight="normal" fill="#000" textLength="10.64" lengthAdjust="spacingAndGlyphs"  stroke="#000" stroke-width="0.15" style="">80</text>
<line x1="345.50" y1="448.50" x2="350.00" y2="448.50" stroke="#111" stroke-width="1.4" />
<text x="340.30" y="451.72" font-size="9.2" text-anchor="end" font-weight="normal" fill="#000" textLength="15.96" lengthAdjust="spacingAndGlyphs"  stroke="#000" stroke-width="0.15" style="">100</text>
<line x1="349.30" y1="556.80" x2="455.70" y2="556.80" stroke="#111" stroke-width="1.4" />
<line x1="376.30" y1="556.80" x2="376.30" y2="561.00" stroke="#111" stroke-width="1.4" />
<line x1="428.80" y1="556.80" x2="428.80" y2="561.00" stroke="#111" stroke-width="1.4" />
<rect x="359.50" y="532.20" width="14.50" height="24.60" fill="#a5002b" stroke="#9a0026" stroke-width="0.7" />
<line x1="366.75" y1="532.20" x2="366.75" y2="531.50" stroke="#111" stroke-width="1.3" />
<line x1="363.35" y1="531.50" x2="370.15" y2="531.50" stroke="#111" stroke-width="1.3" />
<rect x="378.60" y="533.00" width="14.50" height="23.80" fill="#59296b" stroke="#4e2260" stroke-width="0.7" />
<line x1="385.85" y1="533.00" x2="385.85" y2="530.00" stroke="#111" stroke-width="1.3" />
<line x1="382.45" y1="530.00" x2="389.25" y2="530.00" stroke="#111" stroke-width="1.3" />
<rect x="412.20" y="473.10" width="14.70" height="83.70" fill="#a5002b" stroke="#9a0026" stroke-width="0.7" />
<line x1="419.55" y1="473.10" x2="419.55" y2="470.60" stroke="#111" stroke-width="1.3" />
<line x1="416.15" y1="470.60" x2="422.95" y2="470.60" stroke="#111" stroke-width="1.3" />
<rect x="431.50" y="472.50" width="14.50" height="84.30" fill="#59296b" stroke="#4e2260" stroke-width="0.7" />
<line x1="438.75" y1="472.50" x2="438.75" y2="470.60" stroke="#111" stroke-width="1.3" />
<line x1="435.35" y1="470.60" x2="442.15" y2="470.60" stroke="#111" stroke-width="1.3" />
<line x1="418.60" y1="456.90" x2="441.40" y2="456.90" stroke="#000" stroke-width="1.4" />
<text x="430.00" y="452.00" font-size="7.0" text-anchor="middle" font-weight="normal" fill="#111"  stroke="#111" stroke-width="0.25" style="">ns</text>
<circle cx="419.80" cy="463.80" r="0.95" fill="#222"/>
<circle cx="438.60" cy="463.80" r="0.95" fill="#222"/>
<rect x="356.20" y="455.00" width="9.80" height="7.40" fill="#a5002b" />
<text x="370.60" y="461.00" font-size="7.6" text-anchor="start" font-weight="normal" fill="#1a1a1a" textLength="24.00" lengthAdjust="spacingAndGlyphs"  stroke="#1a1a1a" stroke-width="0.13" style="">Vehicle</text>
<rect x="356.20" y="467.70" width="9.80" height="7.40" fill="#59296b" />
<text x="370.60" y="473.80" font-size="7.6" text-anchor="start" font-weight="normal" fill="#1a1a1a" textLength="16.30" lengthAdjust="spacingAndGlyphs"  stroke="#1a1a1a" stroke-width="0.13" style="">CHX</text>
<text transform="translate(317.30,500.65) rotate(-90)" x="0" y="0" font-size="11.3" text-anchor="middle" font-weight="normal" fill="#000" textLength="71.10" lengthAdjust="spacingAndGlyphs"  stroke="#000" stroke-width="0.38" style="">CD41<tspan dy="-3.6" font-size="6.5">+</tspan><tspan dy="3.6">CD62P</tspan><tspan dy="-3.6" font-size="6.5">+</tspan><tspan dy="3.6"> (%)</tspan></text>
<text x="376.60" y="573.50" font-size="9.0" text-anchor="middle" font-weight="normal" fill="#000" textLength="51.20" lengthAdjust="spacingAndGlyphs"  stroke="#000" stroke-width="0.13" style="">Unstimulated</text>
<text x="429.20" y="573.50" font-size="9.0" text-anchor="middle" font-weight="normal" fill="#000" textLength="35.80" lengthAdjust="spacingAndGlyphs"  stroke="#000" stroke-width="0.13" style="">Thrombin</text>
<defs><linearGradient id="gg" gradientUnits="userSpaceOnUse" x1="153" y1="0" x2="158" y2="0"><stop offset="0" stop-color="#4f9a3c"/><stop offset="1" stop-color="#5c4a20"/></linearGradient><linearGradient id="bg" gradientUnits="userSpaceOnUse" x1="156" y1="0" x2="160" y2="0"><stop offset="0" stop-color="#2f4d94"/><stop offset="1" stop-color="#4b2b6b"/></linearGradient></defs>
<path d="M135.3,344.5 L135.6,314.5 L136.5,313.5 L138.6,309.6 L141.7,306.5 L143.6,302 L144.8,300.5 L145.5,295.4 L147.5,287.7 L149.4,281.9 L150.8,278 L151.8,273.3 L153.2,270.4 L154.7,266.5 L155.9,265.1 L157.1,267.5 L158,269.4 L159,268.5 L160,274.2 L160.9,279 L161.9,281.9 L162.8,281 L164.3,279 L165.7,277.6 L167.2,275.2 L168.1,269.4 L169.1,272.3 L170.1,270.4 L171.3,264.6 L172.3,269.4 L173.4,273.3 L174.4,276.2 L175.3,280 L176.3,286.7 L177.3,293.5 L178.2,301.2 L178.6,302.7 L180.2,311.9 L181.7,318.1 L184,322.7 L186.3,327.3 L188.6,331.9 L190.9,335.8 L193.2,338.8 L196.3,341.2 L199.4,342.7 L203.2,343.9 L205,344.3 L205,344.5 Z" fill="#dc98aa"/>
<path d="M135.3,344.5 L135.6,301 L136.8,300.4 L137.8,300.2 L139.5,303.5 L141,299 L143,292 L144.6,286.7 L146,282.9 L147.5,278.6 L148.9,274.2 L150.3,266.5 L151.3,263.7 L153.2,262.7 L154.7,261.7 L155.9,260.8 L156.6,262.2 L157.6,264.6 L159,268.5 L160,273.3 L161.4,280 L162.4,283.8 L162.8,287.7 L163.8,288.7 L165.3,289.1 L166.7,286.7 L168.1,282.9 L169.6,281.9 L171,282.4 L172.5,283.8 L173.4,286.7 L174.9,291.5 L176.3,297.3 L177.0,303 L177.8,310.4 L180.2,318.1 L183.2,325.8 L186.3,333.5 L189.4,338.1 L194,341.9 L198.6,343.5 L200,344.3 L200,344.5 Z" fill="#8a4a7a"/>
<path d="M135.3,344.5 L135.6,305.8 L136.9,304 L139.8,301.2 L141.2,297.3 L143.6,291.5 L146.5,283.8 L149.4,274.2 L151.8,267.5 L153.2,264.6 L154.7,262.7 L155.6,262.2 L157.6,268.5 L159,274.2 L160.4,283.8 L161.9,293.5 L162.8,297.3 L164.3,298.3 L165.7,300.2 L167.2,297.3 L168.1,293.5 L169.1,295.4 L170.5,299.2 L172,301.2 L173.4,303.1 L174.3,304.2 L175.5,310.4 L177.8,318.1 L180.2,324.2 L182.5,330.4 L184.8,335 L187.8,338.8 L190.9,341.2 L194.8,343 L197,344.3 L197,344.5 Z" fill="#7a4a51"/>
<path d="M135.6,305.8 L136.9,304 L139.8,301.2 L141.2,297.3 L143.6,291.5 L146.5,283.8 L149.4,274.2 L151.8,267.5 L153.2,264.6 L154.7,262.7 L155.6,262.2 L157.6,268.5 L159,274.2 L160.4,283.8 L161.9,293.5 L162.8,297.3 L164.3,298.3 L165.7,300.2 L167.2,297.3 L168.1,293.5 L169.1,295.4 L170.5,299.2 L172,301.2 L173.4,303.1 L174.3,304.2 L175.5,310.4 L177.8,318.1 L180.2,324.2 L182.5,330.4 L184.8,335 L187.8,338.8 L190.9,341.2 L194.8,343 L197,344.3" fill="none" stroke="url(#gg)" stroke-width="1.4" stroke-linejoin="round"/>
<path d="M135.6,301 L136.8,300.4 L137.8,300.2 L139.5,303.5 L141,299 L143,292 L144.6,286.7 L146,282.9 L147.5,278.6 L148.9,274.2 L150.3,266.5 L151.3,263.7 L153.2,262.7 L154.7,261.7 L155.9,260.8 L156.6,262.2 L157.6,264.6 L159,268.5 L160,273.3 L161.4,280 L162.4,283.8 L162.8,287.7 L163.8,288.7 L165.3,289.1 L166.7,286.7 L168.1,282.9 L169.6,281.9 L171,282.4 L172.5,283.8 L173.4,286.7 L174.9,291.5 L176.3,297.3 L177.0,303 L177.8,310.4 L180.2,318.1 L183.2,325.8 L186.3,333.5 L189.4,338.1 L194,341.9 L198.6,343.5 L200,344.3" fill="none" stroke="url(#bg)" stroke-width="1.4" stroke-linejoin="round"/>
<path d="M135.6,314.5 L136.5,313.5 L138.6,309.6 L141.7,306.5 L143.6,302 L144.8,300.5 L145.5,295.4 L147.5,287.7 L149.4,281.9 L150.8,278 L151.8,273.3 L153.2,270.4 L154.7,266.5 L155.9,265.1 L157.1,267.5 L158,269.4 L159,268.5 L160,274.2 L160.9,279 L161.9,281.9 L162.8,281 L164.3,279 L165.7,277.6 L167.2,275.2 L168.1,269.4 L169.1,272.3 L170.1,270.4 L171.3,264.6 L172.3,269.4 L173.4,273.3 L174.4,276.2 L175.3,280 L176.3,286.7 L177.3,293.5 L178.2,301.2 L178.6,302.7 L180.2,311.9 L181.7,318.1 L184,322.7 L186.3,327.3 L188.6,331.9 L190.9,335.8 L193.2,338.8 L196.3,341.2 L199.4,342.7 L203.2,343.9 L205,344.3" fill="none" stroke="#b0103a" stroke-width="1.6" stroke-linejoin="round"/>
<line x1="136.30" y1="249.00" x2="136.30" y2="300.00" stroke="#d07080" stroke-width="0.8" />
<rect x="135.3" y="244.3" width="100.5" height="100.19999999999999" fill="none" stroke="#000" stroke-width="1.5"/>
<line x1="130.80" y1="248.80" x2="135.30" y2="248.80" stroke="#000" stroke-width="0.9" />
<line x1="133.10" y1="253.60" x2="135.30" y2="253.60" stroke="#000" stroke-width="0.9" />
<line x1="133.10" y1="258.40" x2="135.30" y2="258.40" stroke="#000" stroke-width="0.9" />
<line x1="133.10" y1="263.20" x2="135.30" y2="263.20" stroke="#000" stroke-width="0.9" />
<line x1="130.80" y1="268.00" x2="135.30" y2="268.00" stroke="#000" stroke-width="0.9" />
<line x1="133.10" y1="272.80" x2="135.30" y2="272.80" stroke="#000" stroke-width="0.9" />
<line x1="133.10" y1="277.60" x2="135.30" y2="277.60" stroke="#000" stroke-width="0.9" />
<line x1="133.10" y1="282.40" x2="135.30" y2="282.40" stroke="#000" stroke-width="0.9" />
<line x1="130.80" y1="287.20" x2="135.30" y2="287.20" stroke="#000" stroke-width="0.9" />
<line x1="133.10" y1="292.00" x2="135.30" y2="292.00" stroke="#000" stroke-width="0.9" />
<line x1="133.10" y1="296.80" x2="135.30" y2="296.80" stroke="#000" stroke-width="0.9" />
<line x1="133.10" y1="301.60" x2="135.30" y2="301.60" stroke="#000" stroke-width="0.9" />
<line x1="130.80" y1="306.40" x2="135.30" y2="306.40" stroke="#000" stroke-width="0.9" />
<line x1="133.10" y1="311.20" x2="135.30" y2="311.20" stroke="#000" stroke-width="0.9" />
<line x1="133.10" y1="316.00" x2="135.30" y2="316.00" stroke="#000" stroke-width="0.9" />
<line x1="133.10" y1="320.80" x2="135.30" y2="320.80" stroke="#000" stroke-width="0.9" />
<line x1="130.80" y1="325.60" x2="135.30" y2="325.60" stroke="#000" stroke-width="0.9" />
<line x1="133.10" y1="330.40" x2="135.30" y2="330.40" stroke="#000" stroke-width="0.9" />
<line x1="133.10" y1="335.20" x2="135.30" y2="335.20" stroke="#000" stroke-width="0.9" />
<line x1="133.10" y1="340.00" x2="135.30" y2="340.00" stroke="#000" stroke-width="0.9" />
<line x1="135.40" y1="344.50" x2="135.40" y2="347.80" stroke="#000" stroke-width="0.9" />
<line x1="142.10" y1="344.50" x2="142.10" y2="346.30" stroke="#000" stroke-width="0.8" />
<line x1="146.02" y1="344.50" x2="146.02" y2="346.30" stroke="#000" stroke-width="0.8" />
<line x1="148.80" y1="344.50" x2="148.80" y2="346.30" stroke="#000" stroke-width="0.8" />
<line x1="150.95" y1="344.50" x2="150.95" y2="346.30" stroke="#000" stroke-width="0.8" />
<line x1="152.71" y1="344.50" x2="152.71" y2="346.30" stroke="#000" stroke-width="0.8" />
<line x1="154.20" y1="344.50" x2="154.20" y2="346.30" stroke="#000" stroke-width="0.8" />
<line x1="155.49" y1="344.50" x2="155.49" y2="346.30" stroke="#000" stroke-width="0.8" />
<line x1="156.63" y1="344.50" x2="156.63" y2="346.30" stroke="#000" stroke-width="0.8" />
<line x1="157.65" y1="344.50" x2="157.65" y2="347.80" stroke="#000" stroke-width="0.9" />
<line x1="164.35" y1="344.50" x2="164.35" y2="346.30" stroke="#000" stroke-width="0.8" />
<line x1="168.27" y1="344.50" x2="168.27" y2="346.30" stroke="#000" stroke-width="0.8" />
<line x1="171.05" y1="344.50" x2="171.05" y2="346.30" stroke="#000" stroke-width="0.8" />
<line x1="173.20" y1="344.50" x2="173.20" y2="346.30" stroke="#000" stroke-width="0.8" />
<line x1="174.96" y1="344.50" x2="174.96" y2="346.30" stroke="#000" stroke-width="0.8" />
<line x1="176.45" y1="344.50" x2="176.45" y2="346.30" stroke="#000" stroke-width="0.8" />
<line x1="177.74" y1="344.50" x2="177.74" y2="346.30" stroke="#000" stroke-width="0.8" />
<line x1="178.88" y1="344.50" x2="178.88" y2="346.30" stroke="#000" stroke-width="0.8" />
<line x1="179.90" y1="344.50" x2="179.90" y2="347.80" stroke="#000" stroke-width="0.9" />
<line x1="186.60" y1="344.50" x2="186.60" y2="346.30" stroke="#000" stroke-width="0.8" />
<line x1="190.52" y1="344.50" x2="190.52" y2="346.30" stroke="#000" stroke-width="0.8" />
<line x1="193.30" y1="344.50" x2="193.30" y2="346.30" stroke="#000" stroke-width="0.8" />
<line x1="195.45" y1="344.50" x2="195.45" y2="346.30" stroke="#000" stroke-width="0.8" />
<line x1="197.21" y1="344.50" x2="197.21" y2="346.30" stroke="#000" stroke-width="0.8" />
<line x1="198.70" y1="344.50" x2="198.70" y2="346.30" stroke="#000" stroke-width="0.8" />
<line x1="199.99" y1="344.50" x2="199.99" y2="346.30" stroke="#000" stroke-width="0.8" />
<line x1="201.13" y1="344.50" x2="201.13" y2="346.30" stroke="#000" stroke-width="0.8" />
<line x1="202.15" y1="344.50" x2="202.15" y2="347.80" stroke="#000" stroke-width="0.9" />
<line x1="208.85" y1="344.50" x2="208.85" y2="346.30" stroke="#000" stroke-width="0.8" />
<line x1="212.77" y1="344.50" x2="212.77" y2="346.30" stroke="#000" stroke-width="0.8" />
<line x1="215.55" y1="344.50" x2="215.55" y2="346.30" stroke="#000" stroke-width="0.8" />
<line x1="217.70" y1="344.50" x2="217.70" y2="346.30" stroke="#000" stroke-width="0.8" />
<line x1="219.46" y1="344.50" x2="219.46" y2="346.30" stroke="#000" stroke-width="0.8" />
<line x1="220.95" y1="344.50" x2="220.95" y2="346.30" stroke="#000" stroke-width="0.8" />
<line x1="222.24" y1="344.50" x2="222.24" y2="346.30" stroke="#000" stroke-width="0.8" />
<line x1="223.38" y1="344.50" x2="223.38" y2="346.30" stroke="#000" stroke-width="0.8" />
<line x1="224.40" y1="344.50" x2="224.40" y2="347.80" stroke="#000" stroke-width="0.9" />
<text x="134.10" y="361.4" font-size="7.9" text-anchor="middle" fill="#111" stroke="#111" stroke-width="0.13">10<tspan dy="-3.4" font-size="5.8">0</tspan></text>
<text x="156.35" y="361.4" font-size="7.9" text-anchor="middle" fill="#111" stroke="#111" stroke-width="0.13">10<tspan dy="-3.4" font-size="5.8">1</tspan></text>
<text x="178.60" y="361.4" font-size="7.9" text-anchor="middle" fill="#111" stroke="#111" stroke-width="0.13">10<tspan dy="-3.4" font-size="5.8">2</tspan></text>
<text x="200.85" y="361.4" font-size="7.9" text-anchor="middle" fill="#111" stroke="#111" stroke-width="0.13">10<tspan dy="-3.4" font-size="5.8">3</tspan></text>
<text x="223.10" y="361.4" font-size="7.9" text-anchor="middle" fill="#111" stroke="#111" stroke-width="0.13">10<tspan dy="-3.4" font-size="5.8">4</tspan></text>
<line x1="164.30" y1="254.30" x2="231.30" y2="254.30" stroke="#000" stroke-width="1.4" />
<line x1="164.30" y1="252.20" x2="164.30" y2="256.40" stroke="#000" stroke-width="1.3" />
<line x1="231.30" y1="252.20" x2="231.30" y2="256.40" stroke="#000" stroke-width="1.3" />
<text x="182.00" y="265.30" font-size="8.0" text-anchor="start" font-weight="normal" fill="#6aa84f" textLength="39.30" lengthAdjust="spacingAndGlyphs"  stroke="#6aa84f" stroke-width="0.13" style="">IgG + Mock</text>
<text x="182.00" y="275.30" font-size="8.0" text-anchor="start" font-weight="normal" fill="#b3123a" textLength="42.00" lengthAdjust="spacingAndGlyphs"  stroke="#b3123a" stroke-width="0.13" style="">IgG + DENV</text>
<text x="182.00" y="284.30" font-size="8.0" text-anchor="start" font-weight="normal" fill="#2e4b93" textLength="51.00" lengthAdjust="spacingAndGlyphs"  stroke="#2e4b93" stroke-width="0.13" style="">a-NS1 + DENV</text>
<text x="135.40" y="379.20" font-size="11.2" text-anchor="start" font-weight="normal" fill="#000" textLength="25.40" lengthAdjust="spacingAndGlyphs"  stroke="#000" stroke-width="0.55" style="">CD62P</text>
<line x1="164.70" y1="375.00" x2="228.00" y2="375.00" stroke="#000" stroke-width="1.4" />
<path d="M234.3,375 L226.5,371.6 L228.2,375 L226.5,378.4 Z" fill="#000"/>
<rect x="0.00" y="0.00" width="520.00" height="1.50" fill="#000" />
<rect x="0.00" y="0.00" width="1.50" height="625.00" fill="#000" />
<rect x="517.60" y="0.00" width="2.40" height="625.00" fill="#000" />
<rect x="0.00" y="622.60" width="520.00" height="2.40" fill="#000" />
</svg>
</body></html>
